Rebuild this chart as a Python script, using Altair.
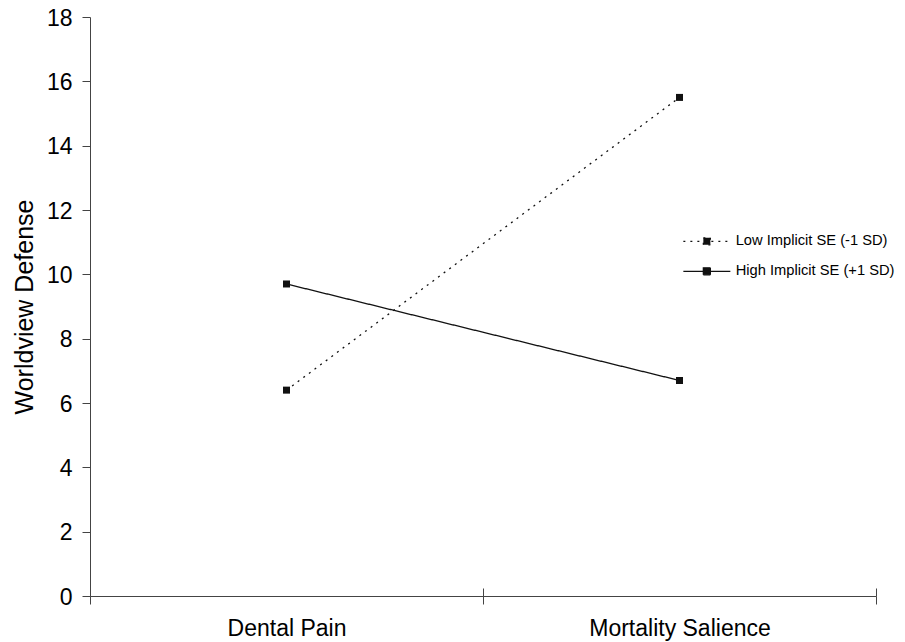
import altair as alt
import pandas as pd

categories = ["Dental Pain", "Mortality Salience"]
series = ["Low Implicit SE (-1 SD)", "High Implicit SE (+1 SD)"]
low_values = [6.4, 15.5]
high_values = [9.7, 6.7]
y_ticks = [0, 2, 4, 6, 8, 10, 12, 14, 16, 18]

rows = []
for c, v in zip(categories, low_values):
    rows.append({"condition": c, "series": series[0], "value": v})
for c, v in zip(categories, high_values):
    rows.append({"condition": c, "series": series[1], "value": v})
df = pd.DataFrame(rows)

FONT = "Liberation Sans"
AX = "#444444"

xscale = alt.Scale(type="band", domain=categories, paddingInner=0, paddingOuter=0)
yscale = alt.Scale(domain=[0, 18], nice=False)
yaxis = alt.Axis(values=y_ticks, tickSize=8, labelPadding=10, labelFontSize=23,
                 title="Worldview Defense", titleFontSize=25, titleFontWeight="normal",
                 titlePadding=9, grid=False, domainColor=AX, tickColor=AX,
                 labelColor="black", titleColor="black", labelFont=FONT, titleFont=FONT,
                 labelOffset=1, orient="left")

legend_symbol = "M-4.7,0H4.7M-0.7,-0.7H0.7V0.7H-0.7Z"

lines = alt.Chart(df).mark_line(color="#111111", strokeWidth=1.3).encode(
    x=alt.X("condition:N", scale=xscale,
            axis=alt.Axis(title=None, labelAngle=0, tickBand="extent", tickSize=8,
                          labelPadding=13, labelFontSize=23, labelFont=FONT,
                          labelColor="black", domainColor=AX, tickColor=AX, grid=False,
                          labelLimit=0, orient="bottom")),
    y=alt.Y("value:Q", scale=yscale, axis=yaxis),
    strokeDash=alt.StrokeDash("series:N",
        scale=alt.Scale(domain=series, range=[[2, 5], [1, 0]]),
        legend=alt.Legend(title=None, orient="none", legendX=609.5, legendY=217,
                          symbolType=legend_symbol, symbolSize=100,
                          symbolStrokeColor="#111111", symbolFillColor="#111111",
                          symbolStrokeWidth=1.3, labelOffset=21.5, rowPadding=14,
                          labelFontSize=14.7, labelFont=FONT, labelColor="black",
                          labelLimit=0, padding=0)),
    detail="series:N",
)

points = alt.Chart(df).mark_point(shape="square", filled=True, size=49,
                                  color="#111111", opacity=1).encode(
    x=alt.X("condition:N", scale=xscale,
            axis=alt.Axis(title=None, labels=False, domain=False, tickBand="extent",
                          tickSize=8, offset=-8, tickColor=AX, grid=False,
                          orient="bottom")),
    y=alt.Y("value:Q", scale=yscale, axis=yaxis),
)

chart = alt.layer(lines, points).resolve_scale(x="independent").properties(
    width=786, height=579,
    autosize=alt.AutoSizeParams(type="none"),
    padding={"left": 82, "top": 9, "right": 21, "bottom": 46},
).configure(font=FONT).configure_view(stroke=None, strokeWidth=0).configure_axis(
    grid=False)

chart.save("out.html", embed_options={"renderer": "svg", "actions": False})
